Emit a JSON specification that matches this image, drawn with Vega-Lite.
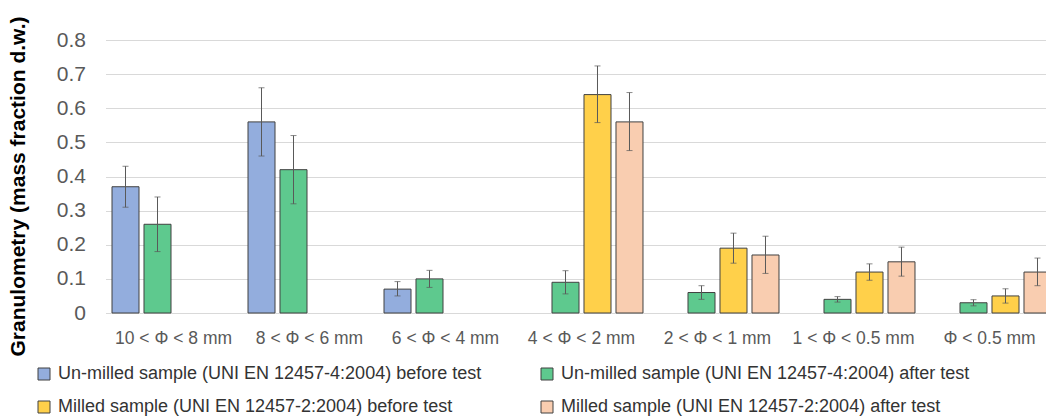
{
  "$schema": "https://vega.github.io/schema/vega-lite/v6.json",
  "width": 940.5,
  "height": 273,
  "autosize": {"type": "none"},
  "padding": {"left": 105.5, "top": 40, "right": 0, "bottom": 104},
  "background": "white",
  "config": {
    "view": {"stroke": null},
    "font": "Liberation Sans",
    "axis": {"labelFont": "Liberation Sans", "titleFont": "Liberation Sans"},
    "axisY": {"tickCount": 9, "labelOverlap": false},
    "legend": {"labelFont": "Liberation Sans"}
  },
  "data": {
    "values": [
      {"cat": "10 < Φ < 8 mm", "series": "Un-milled sample (UNI EN 12457-4:2004) before test", "value": 0.37, "lo": 0.31, "hi": 0.43},
      {"cat": "10 < Φ < 8 mm", "series": "Un-milled sample (UNI EN 12457-4:2004) after test", "value": 0.26, "lo": 0.18, "hi": 0.34},
      {"cat": "8 < Φ < 6 mm", "series": "Un-milled sample (UNI EN 12457-4:2004) before test", "value": 0.56, "lo": 0.46, "hi": 0.66},
      {"cat": "8 < Φ < 6 mm", "series": "Un-milled sample (UNI EN 12457-4:2004) after test", "value": 0.42, "lo": 0.32, "hi": 0.52},
      {"cat": "6 < Φ < 4 mm", "series": "Un-milled sample (UNI EN 12457-4:2004) before test", "value": 0.07, "lo": 0.05, "hi": 0.092},
      {"cat": "6 < Φ < 4 mm", "series": "Un-milled sample (UNI EN 12457-4:2004) after test", "value": 0.10, "lo": 0.075, "hi": 0.125},
      {"cat": "4 < Φ < 2 mm", "series": "Un-milled sample (UNI EN 12457-4:2004) after test", "value": 0.09, "lo": 0.056, "hi": 0.124},
      {"cat": "4 < Φ < 2 mm", "series": "Milled sample (UNI EN 12457-2:2004) before test", "value": 0.64, "lo": 0.558, "hi": 0.724},
      {"cat": "4 < Φ < 2 mm", "series": "Milled sample (UNI EN 12457-2:2004) after test", "value": 0.56, "lo": 0.476, "hi": 0.646},
      {"cat": "2 < Φ < 1 mm", "series": "Un-milled sample (UNI EN 12457-4:2004) after test", "value": 0.06, "lo": 0.04, "hi": 0.08},
      {"cat": "2 < Φ < 1 mm", "series": "Milled sample (UNI EN 12457-2:2004) before test", "value": 0.19, "lo": 0.146, "hi": 0.234},
      {"cat": "2 < Φ < 1 mm", "series": "Milled sample (UNI EN 12457-2:2004) after test", "value": 0.17, "lo": 0.116, "hi": 0.225},
      {"cat": "1 < Φ < 0.5 mm", "series": "Un-milled sample (UNI EN 12457-4:2004) after test", "value": 0.04, "lo": 0.032, "hi": 0.048},
      {"cat": "1 < Φ < 0.5 mm", "series": "Milled sample (UNI EN 12457-2:2004) before test", "value": 0.12, "lo": 0.096, "hi": 0.144},
      {"cat": "1 < Φ < 0.5 mm", "series": "Milled sample (UNI EN 12457-2:2004) after test", "value": 0.15, "lo": 0.108, "hi": 0.193},
      {"cat": "Φ < 0.5 mm", "series": "Un-milled sample (UNI EN 12457-4:2004) after test", "value": 0.03, "lo": 0.021, "hi": 0.039},
      {"cat": "Φ < 0.5 mm", "series": "Milled sample (UNI EN 12457-2:2004) before test", "value": 0.05, "lo": 0.029, "hi": 0.071},
      {"cat": "Φ < 0.5 mm", "series": "Milled sample (UNI EN 12457-2:2004) after test", "value": 0.12, "lo": 0.08, "hi": 0.161}
    ]
  },
  "encoding": {
    "x": {
      "field": "cat",
      "type": "nominal",
      "sort": ["10 < Φ < 8 mm", "8 < Φ < 6 mm", "6 < Φ < 4 mm", "4 < Φ < 2 mm", "2 < Φ < 1 mm", "1 < Φ < 0.5 mm", "Φ < 0.5 mm"],
      "scale": {"range": [0, 952], "paddingInner": 0.0956, "paddingOuter": 0.0478},
      "axis": {
        "title": null,
        "labelAngle": 0,
        "labelFontSize": 17.5,
        "labelColor": "#595959",
        "labelPadding": 16,
        "ticks": false,
        "domain": false,
        "labelBaseline": "top"
      }
    },
    "xOffset": {
      "field": "series",
      "type": "nominal",
      "scale": {
        "domain": ["Un-milled sample (UNI EN 12457-4:2004) before test", "Un-milled sample (UNI EN 12457-4:2004) after test", "Milled sample (UNI EN 12457-2:2004) before test", "Milled sample (UNI EN 12457-2:2004) after test"],
        "paddingInner": 0.156,
        "paddingOuter": 0
      }
    }
  },
  "layer": [
    {
      "mark": {"type": "bar", "stroke": "#404040", "strokeWidth": 1},
      "encoding": {
        "y": {
          "field": "value",
          "type": "quantitative",
          "scale": {"domain": [0, 0.8], "nice": false},
          "axis": {
            "title": "Granulometry (mass fraction d.w.)",
            "titleFontSize": 21,
            "titleFontWeight": "bold",
            "titleColor": "#000000",
            "titleX": -77,
            "titleY": 146,
            "values": [0, 0.1, 0.2, 0.3, 0.4, 0.5, 0.6, 0.7, 0.8],
            "format": "~g",
            "labelFontSize": 21,
            "labelColor": "#595959",
            "labelPadding": 20,
            "ticks": false,
            "domain": false,
            "grid": true,
            "gridColor": "#d9d9d9",
            "gridWidth": 1
          }
        },
        "color": {
          "field": "series",
          "type": "nominal",
          "scale": {
            "domain": ["Un-milled sample (UNI EN 12457-4:2004) before test", "Milled sample (UNI EN 12457-2:2004) before test", "Un-milled sample (UNI EN 12457-4:2004) after test", "Milled sample (UNI EN 12457-2:2004) after test"],
            "range": ["#93addd", "#ffd04a", "#5ec98e", "#f9cdb0"]
          },
          "legend": {
            "title": null,
            "orient": "none",
            "legendX": -70.5,
            "legendY": 325,
            "columns": 2,
            "columnPadding": 56,
            "rowPadding": 15,
            "symbolType": "square",
            "symbolSize": 144,
            "symbolStrokeColor": "#404040",
            "symbolStrokeWidth": 1,
            "symbolOpacity": 1,
            "labelFontSize": 18,
            "labelColor": "#333333",
            "labelOffset": 5,
            "labelLimit": 600
          }
        }
      }
    },
    {
      "mark": {"type": "rule", "color": "#595959", "strokeWidth": 1},
      "encoding": {
        "y": {
          "field": "lo",
          "type": "quantitative",
          "axis": {
            "title": "Granulometry (mass fraction d.w.)",
            "titleFontSize": 21,
            "titleFontWeight": "bold",
            "titleColor": "#000000",
            "titleX": -77,
            "titleY": 146,
            "values": [0, 0.1, 0.2, 0.3, 0.4, 0.5, 0.6, 0.7, 0.8],
            "format": "~g",
            "labelFontSize": 21,
            "labelColor": "#595959",
            "labelPadding": 20,
            "ticks": false,
            "domain": false,
            "grid": true,
            "gridColor": "#d9d9d9",
            "gridWidth": 1
          }
        },
        "y2": {"field": "hi"}
      }
    },
    {
      "mark": {"type": "tick", "orient": "horizontal", "color": "#595959", "size": 6, "thickness": 1},
      "encoding": {
        "y": {
          "field": "lo",
          "type": "quantitative",
          "axis": {
            "title": "Granulometry (mass fraction d.w.)",
            "titleFontSize": 21,
            "titleFontWeight": "bold",
            "titleColor": "#000000",
            "titleX": -77,
            "titleY": 146,
            "values": [0, 0.1, 0.2, 0.3, 0.4, 0.5, 0.6, 0.7, 0.8],
            "format": "~g",
            "labelFontSize": 21,
            "labelColor": "#595959",
            "labelPadding": 20,
            "ticks": false,
            "domain": false,
            "grid": true,
            "gridColor": "#d9d9d9",
            "gridWidth": 1
          }
        }
      }
    },
    {
      "mark": {"type": "tick", "orient": "horizontal", "color": "#595959", "size": 6, "thickness": 1},
      "encoding": {
        "y": {
          "field": "hi",
          "type": "quantitative",
          "axis": {
            "title": "Granulometry (mass fraction d.w.)",
            "titleFontSize": 21,
            "titleFontWeight": "bold",
            "titleColor": "#000000",
            "titleX": -77,
            "titleY": 146,
            "values": [0, 0.1, 0.2, 0.3, 0.4, 0.5, 0.6, 0.7, 0.8],
            "format": "~g",
            "labelFontSize": 21,
            "labelColor": "#595959",
            "labelPadding": 20,
            "ticks": false,
            "domain": false,
            "grid": true,
            "gridColor": "#d9d9d9",
            "gridWidth": 1
          }
        }
      }
    }
  ]
}
